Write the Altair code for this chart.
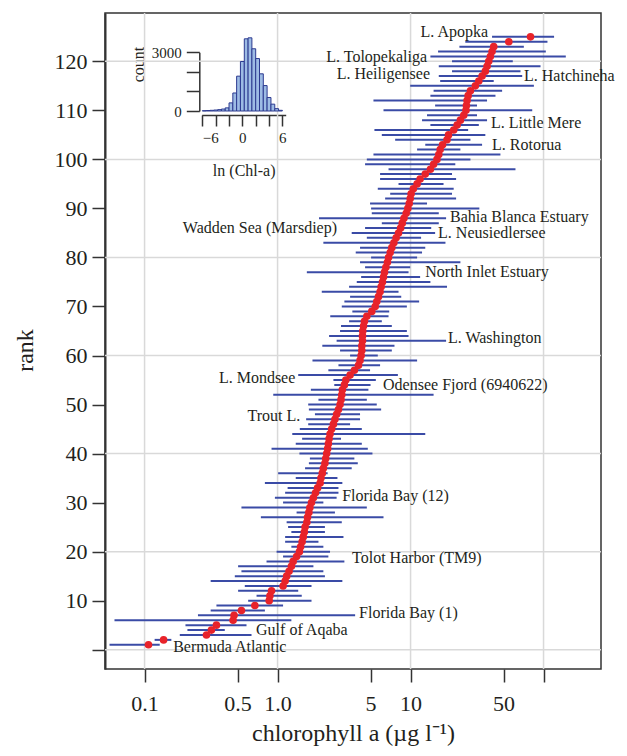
import altair as alt
import pandas as pd

FONT = "Liberation Serif"
BLUE = "#3a4ba6"
RED = "#e8232a"
INK = "#231f20"
FRAME = "#333333"
GRID = "#d9d9d9"

rank = list(range(1, 126))
median = [0.107, 0.139, 0.292, 0.318, 0.347, 0.463, 0.471, 0.535, 0.675, 0.865,
          0.876, 0.901, 1.10, 1.14, 1.17, 1.22, 1.27, 1.31, 1.39, 1.46,
          1.49, 1.53, 1.56, 1.59, 1.61, 1.66, 1.68, 1.72, 1.75, 1.80,
          1.86, 1.93, 2.00, 2.09, 2.12, 2.17, 2.21, 2.27, 2.30, 2.34,
          2.38, 2.41, 2.44, 2.48, 2.55, 2.63, 2.70, 2.78, 2.87, 2.95,
          3.00, 3.04, 3.07, 3.18, 3.26, 3.51, 3.78, 4.06, 4.17, 4.25,
          4.30, 4.30, 4.35, 4.35, 4.37, 4.43, 4.50, 4.69, 5.11, 5.42,
          5.57, 5.74, 5.90, 6.01, 6.15, 6.26, 6.37, 6.52, 6.70, 6.83,
          7.03, 7.23, 7.49, 7.79, 8.12, 8.42, 8.66, 8.92, 9.27, 9.54,
          9.77, 9.94, 10.1, 10.5, 11.2, 11.8, 12.9, 14.1, 14.9, 15.8,
          16.3, 16.7, 17.4, 18.8, 19.3, 21.1, 22.4, 23.7, 25.1, 26.1,
          26.3, 26.6, 27.1, 28.2, 30.7, 32.6, 34.5, 36.5, 37.6, 38.7,
          39.8, 41.0, 42.2, 54.8, 79.8]
low = [0.0545, 0.119, 0.184, 0.210, 0.203, 0.0594, 0.252, 0.314, 0.347, 0.601,
       0.695, 0.505, 0.567, 0.314, 0.477, 0.535, 0.505, 0.826, 1.10, 0.983,
       1.27, 1.14, 1.14, 1.27, 1.20, 1.17, 0.749, 1.39, 0.535, 1.10,
       0.955, 1.14, 1.19, 0.803, 1.37, 1.01, 1.61, 1.72, 1.75, 1.46,
       0.901, 1.37, 1.53, 1.29, 1.47, 1.70, 1.64, 1.91, 1.72, 1.70,
       2.03, 0.928, 1.78, 2.67, 2.63, 1.43, 2.41, 2.87, 1.83, 3.51,
       2.95, 2.17, 2.78, 2.44, 2.95, 3.00, 3.45, 2.49, 3.65, 3.04,
       3.18, 3.51, 2.15, 3.45, 3.94, 4.25, 1.66, 4.55, 4.17, 5.05,
       3.87, 4.17, 2.21, 4.69, 3.61, 4.55, 6.08, 2.05, 5.11, 5.05,
       4.96, 6.44, 7.03, 5.67, 8.12, 5.90, 5.90, 6.83, 4.55, 4.69,
       5.26, 11.2, 12.9, 7.66, 6.08, 5.35, 14.1, 12.2, 13.3, 6.26,
       15.3, 5.26, 14.1, 14.9, 9.94, 16.7, 16.3, 20.5, 16.3, 20.5,
       14.1, 16.1, 23.3, 25.8, 41.0]
high = [0.130, 0.159, 0.637, 0.401, 0.584, 1.27, 3.83, 0.803, 1.10, 1.80,
        1.52, 1.43, 1.80, 3.07, 2.27, 2.21, 1.86, 3.18, 2.41, 2.48,
        2.21, 2.03, 3.13, 2.27, 2.27, 3.04, 6.26, 2.70, 4.69, 2.21,
        2.78, 2.87, 2.87, 3.07, 2.82, 2.38, 3.61, 4.01, 3.78, 5.17,
        4.77, 4.30, 3.00, 12.9, 4.30, 3.51, 4.17, 4.17, 6.01, 5.57,
        4.69, 14.9, 4.82, 5.00, 5.48, 8.03, 4.96, 5.90, 11.2, 5.67,
        7.23, 7.57, 18.5, 9.66, 9.38, 7.23, 6.08, 6.83, 6.91, 9.38,
        11.6, 8.51, 8.12, 18.8, 14.1, 11.8, 9.66, 9.94, 23.7, 11.2,
        12.2, 12.9, 18.3, 12.0, 15.3, 14.3, 16.3, 18.5, 16.3, 32.9,
        13.3, 22.0, 20.5, 21.1, 17.7, 22.0, 20.5, 61.5, 21.7, 28.2,
        47.4, 23.7, 34.5, 28.2, 36.5, 27.1, 32.6, 37.6, 31.6, 82.2,
        31.6, 37.6, 43.5, 48.8, 84.6, 42.2, 69.1, 67.1, 94.9, 58.7,
        147.0, 104.0, 71.1, 107.0, 120.0]

label_text = ["L. Apopka", "L. Tolopekaliga", "L. Heiligensee", "L. Hatchineha",
              "L. Little Mere", "L. Rotorua", "Bahia Blanca Estuary",
              "Wadden Sea (Marsdiep)", "L. Neusiedlersee", "North Inlet Estuary",
              "L. Washington", "L. Mondsee", "Odensee Fjord (6940622)", "Trout L.",
              "Florida Bay (12)", "Tolot Harbor (TM9)", "Florida Bay (1)",
              "Gulf of Aqaba", "Bermuda Atlantic"]
label_x = [38.3, 13.3, 14.0, 71.3, 40.3, 41.0, 19.8, 2.80, 16.1, 12.9,
           19.1, 1.36, 6.21, 1.48, 3.06, 3.63, 4.10, 0.689, 0.164]
label_rank = [126.0, 120.9, 117.4, 117.0, 107.4, 102.9, 88.3, 86.0, 85.0, 77.0,
              63.6, 55.4, 53.9, 47.6, 31.3, 18.6, 7.4, 4.1, 0.5]
label_side = ["right", "right", "right", "left", "left", "left", "left", "right",
              "left", "left", "left", "right", "left", "right", "left", "left",
              "left", "left", "left"]

grid_x = [0.1, 1, 10, 100]
grid_y = [0, 20, 40, 60, 80, 100, 120]
x_ticks = [0.1, 0.5, 1, 5, 10, 50, 100]
y_ticks = [0, 10, 20, 30, 40, 50, 60, 70, 80, 90, 100, 110, 120]

hist_left = [-6.0, -5.43, -4.86, -4.29, -3.71, -3.14, -2.57, -2.0, -1.43, -0.86, -0.29,
             0.29, 0.86, 1.43, 2.0, 2.57, 3.14, 3.71, 4.29, 4.86, 5.43]
hist_right = [-5.43, -4.86, -4.29, -3.71, -3.14, -2.57, -2.0, -1.43, -0.86, -0.29, 0.29,
              0.86, 1.43, 2.0, 2.57, 3.14, 3.71, 4.29, 4.86, 5.43, 6.0]
hist_count = [15, 25, 35, 50, 70, 100, 160, 415, 920, 1780, 2530,
              3690, 3740, 3180, 2680, 1900, 1300, 690, 350, 120, 35]
hist_x_ticks = [-6, -4, -2, 0, 2, 4, 6]
hist_y_ticks = [0, 1000, 2000, 3000]

df = pd.DataFrame({"rank": rank, "median": median, "low": low, "high": high})
lab = pd.DataFrame({"name": label_text, "lx": label_x, "lr": label_rank, "side": label_side})
gx = pd.DataFrame({"v": grid_x})
gy = pd.DataFrame({"r": grid_y})
hist = pd.DataFrame({"a": hist_left, "b": hist_right, "n": hist_count,
                     "z": [0] * len(hist_count)})

W, H = 496, 656
xs = alt.Scale(type="log", domain=[0.0504, 270.4], nice=False)
ys = alt.Scale(domain=[-3.94, 129.86], nice=False, zero=False)

x_axis = alt.Axis(values=x_ticks, format=".1~f",
                  labelExpr="datum.value >= 100 ? '' : (datum.value == 1 ? '1.0' : datum.label)",
                  grid=False, domain=False, tickSize=13, tickWidth=1.5, tickColor=FRAME,
                  labelPadding=11, labelFont=FONT, labelFontSize=22, labelColor=INK,
                  title="chlorophyll a (µg l⁻¹)", titleFont=FONT, titleFontSize=24,
                  titleFontWeight="normal", titleColor=INK, titleBaseline="alphabetic",
                  titleY=71)
y_axis = alt.Axis(values=y_ticks, labelExpr="datum.value == 0 ? '' : datum.label",
                  grid=False, domain=True, domainColor=FRAME, domainWidth=2,
                  tickSize=13, tickWidth=1.5, tickColor=FRAME, labelPadding=5,
                  labelFont=FONT, labelFontSize=22, labelColor=INK,
                  title="rank", titleFont=FONT, titleFontSize=24, titleFontWeight="normal",
                  titleColor=INK, titleAngle=270, titleAlign="center",
                  titleBaseline="middle", titleX=-80, titleY=337)

X = lambda f: alt.X(f, type="quantitative", scale=xs, axis=x_axis)
Y = lambda f: alt.Y(f, type="quantitative", scale=ys, axis=y_axis)

grid_v = alt.Chart(gx).mark_rule(color=GRID, strokeWidth=1.5).encode(x=X("v"))
grid_h = alt.Chart(gy).mark_rule(color=GRID, strokeWidth=1.5).encode(y=Y("r"))
ranges = alt.Chart(df).mark_rule(color=BLUE, strokeWidth=2).encode(
    x=X("low"), x2="high", y=Y("rank"))
dots = alt.Chart(df).mark_circle(color=RED, size=58, opacity=1).encode(
    x=X("median"), y=Y("rank"))
lab_left = alt.Chart(lab).transform_filter("datum.side == 'left'").mark_text(
    align="left", baseline="middle", font=FONT, fontSize=16, color=INK).encode(
    x=X("lx"), y=Y("lr"), text="name:N")
lab_right = alt.Chart(lab).transform_filter("datum.side == 'right'").mark_text(
    align="right", baseline="middle", font=FONT, fontSize=16, color=INK).encode(
    x=X("lx"), y=Y("lr"), text="name:N")

main = alt.layer(grid_v, grid_h, ranges, dots, lab_left, lab_right)

hx = alt.Scale(domain=[-6.1, 6.5], range=[96.7, 180.7], nice=False, zero=False)
hy = alt.Scale(domain=[0, 3000], range=[98, 39.3], nice=False, zero=False)
bars = alt.Chart(hist).mark_rect(fill="#9dbbe4", stroke="#2c3a90", strokeWidth=1).encode(
    x=alt.X("a:Q", scale=hx, axis=alt.Axis(
        orient="bottom", offset=-554, values=hist_x_ticks,
        labelExpr="datum.value == -6 ? '−6' : (datum.value == 0 ? '0' : (datum.value == 6 ? '6' : ''))",
        grid=False, domainColor=FRAME, domainWidth=1.5, tickColor=FRAME, tickWidth=1.5,
        tickSize=11, labelPadding=4, labelFont=FONT, labelFontSize=15, labelColor=INK,
        title="ln (Chl-a)", titleFont=FONT, titleFontSize=16, titleFontWeight="normal",
        titleColor=INK, titleBaseline="middle", titleY=55)),
    x2="b:Q",
    y=alt.Y("n:Q", scale=hy, axis=alt.Axis(
        orient="left", offset=-94.3, values=hist_y_ticks,
        labelExpr="datum.value == 1000 || datum.value == 2000 ? '' : toString(datum.value)",
        grid=False, domainColor=FRAME, domainWidth=1.5, tickColor=FRAME, tickWidth=1.5,
        tickSize=13, labelPadding=5, labelFont=FONT, labelFontSize=15, labelColor=INK,
        title="count", titleFont=FONT, titleFontSize=16, titleFontWeight="normal",
        titleColor=INK, titleAngle=270, titleAlign="center", titleBaseline="middle",
        titleX=-61, titleY=51)),
    y2="z:Q",
)

chart = alt.layer(main, bars).resolve_scale(x="independent", y="independent").properties(
    width=W, height=H,
    padding={"left": 97, "top": 5, "right": 18, "bottom": 79},
    autosize=alt.AutoSizeParams(type="none"),
).configure_view(stroke=FRAME, strokeWidth=1.5)

chart.save("out.html", embed_options={"renderer": "svg", "actions": False})
